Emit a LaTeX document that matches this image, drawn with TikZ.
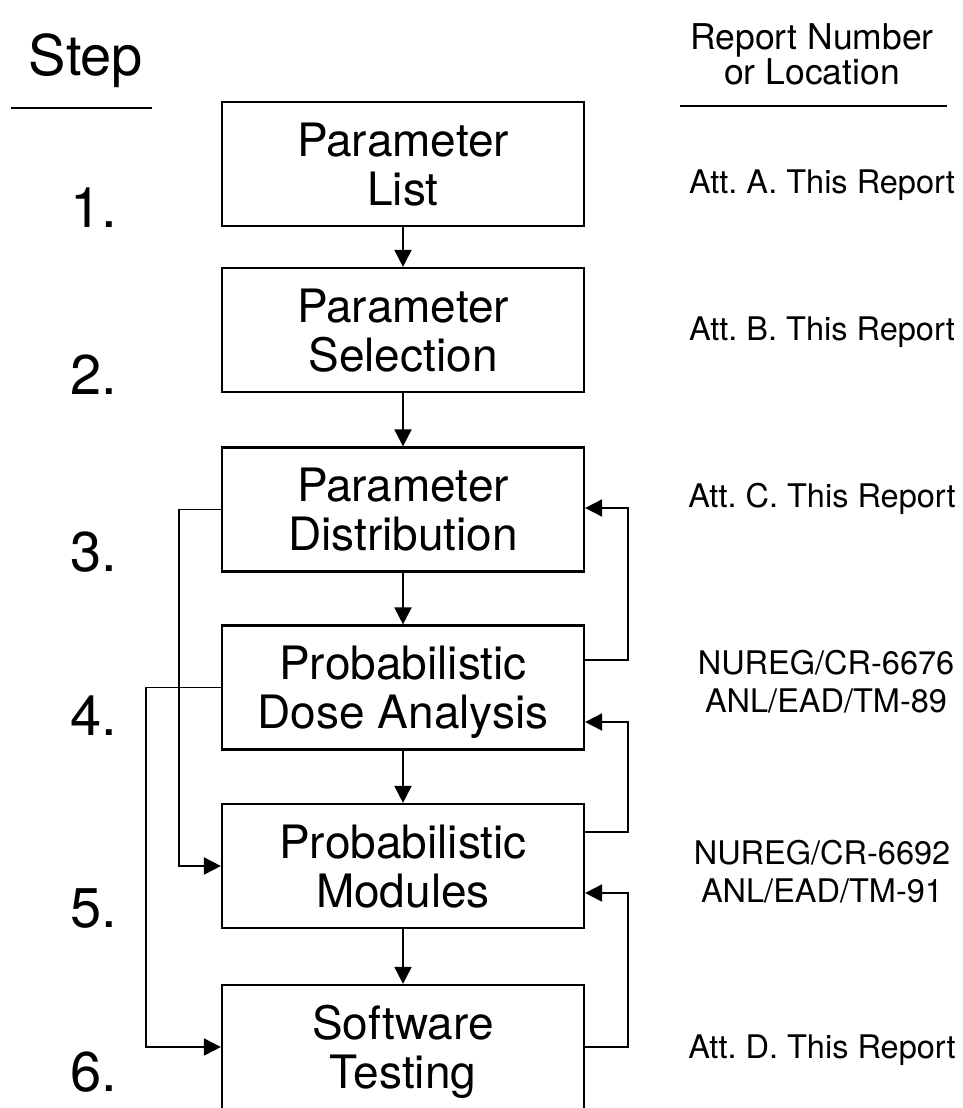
\documentclass[tikz,border=0pt]{standalone}
\usepackage{fontspec}
\setmainfont{TeX Gyre Heros}
\usetikzlibrary{arrows.meta}
\frenchspacing

\begin{document}
\begin{tikzpicture}[x=1pt, y=-1pt,
  stepbox/.style={draw, line width=2.2pt, inner sep=0pt,
    minimum width=362pt, minimum height=124pt, align=center,
    text depth=0pt, font=\fontsize{46}{49}\selectfont},
  conn/.style={line width=1.9pt, -{Triangle[length=17pt, width=17pt]}},
  rule/.style={line width=2.4pt},
  stepno/.style={anchor=base west, inner sep=0pt, font=\fontsize{56}{60}\selectfont},
  ref/.style={inner sep=0pt, align=center, font=\fontsize{32.5}{38}\selectfont}]

\useasboundingbox (0,0) rectangle (962,1108);

% column headings
\node[anchor=base, inner sep=0pt, font=\fontsize{56}{60}\selectfont] (hstep) at (86,75) {Step};
\coordinate (sl1) at (11,108);
\coordinate (sl2) at (152,108);
\draw[rule] (sl1) -- (sl2);

\node[ref, font=\fontsize{35.5}{35}\selectfont] (hrep) at (812,54) {Report Number\\or Location};
\coordinate (rl1) at (680,106);
\coordinate (rl2) at (947,106);
\draw[rule] (rl1) -- (rl2);

% process boxes
\node[stepbox] (b1) at (403,164)    {Parameter\\List};
\node[stepbox] (b2) at (403,330)    {Parameter\\Selection};
\node[stepbox] (b3) at (403,509.5)  {Parameter\\Distribution};
\node[stepbox] (b4) at (403,687.5)  {Probabilistic\\Dose Analysis};
\node[stepbox] (b5) at (403,866)    {Probabilistic\\Modules};
\node[stepbox] (b6) at (403,1047)   {Software\\Testing};

% step numbers
\node[stepno] (n1) at (70,227)  {1.};
\node[stepno] (n2) at (70,394)  {2.};
\node[stepno] (n3) at (70,571)  {3.};
\node[stepno] (n4) at (70,735)  {4.};
\node[stepno] (n5) at (70,927)  {5.};
\node[stepno] (n6) at (70,1091) {6.};

% report references
\node[ref, anchor=base] (r1) at (822,193)  {Att. A. This Report};
\node[ref, anchor=base] (r2) at (822,340)  {Att. B. This Report};
\node[ref, anchor=base] (r3) at (822,507)  {Att. C. This Report};
\node[ref] (r4) at (826,682)  {NUREG/CR-6676\\ANL/EAD/TM-89};
\node[ref] (r5) at (822,872)  {NUREG/CR-6692\\ANL/EAD/TM-91};
\node[ref, anchor=base] (r6) at (822,1058) {Att. D. This Report};

% main flow
\draw[conn] (b1.south) -- (b2.north);
\draw[conn] (b2.south) -- (b3.north);
\draw[conn] (b3.south) -- (b4.north);
\draw[conn] (b4.south) -- (b5.north);
\draw[conn] (b5.south) -- (b6.north);

% feedback loops on the right
\draw[conn] ([yshift=27.5pt]b4.east) -- ++(43,0) |- ([yshift=1.5pt]b3.east);
\draw[conn] ([yshift=34pt]b5.east) -- ++(43,0) |- ([yshift=-34.5pt]b4.east);
\draw[conn] (b6.east) -- ++(43,0) |- ([yshift=-27pt]b5.east);

% feed-forward links on the left
\draw[conn] (b3.west) -- ++(-42,0) |- (b5.west);
\draw[conn] (b4.west) -- ++(-75,0) |- (b6.west);
\end{tikzpicture}
\end{document}
